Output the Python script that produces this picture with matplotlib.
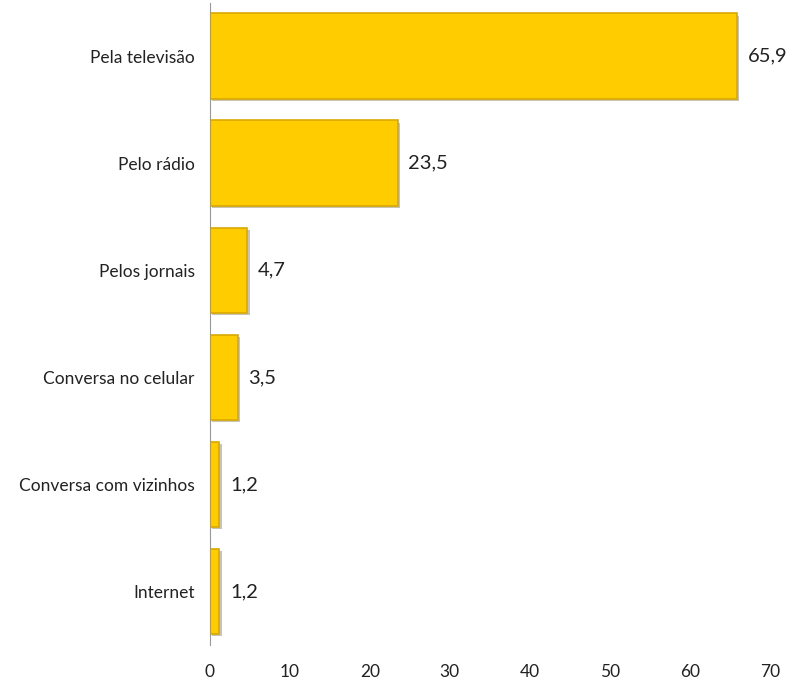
import matplotlib
matplotlib.use('Agg')
import matplotlib.pyplot as plt
import matplotlib.patheffects as pe

categories = ['Pela televisão', 'Pelo rádio', 'Pelos jornais',
              'Conversa no celular', 'Conversa com vizinhos', 'Internet']
values = [65.9, 23.5, 4.7, 3.5, 1.2, 1.2]
labels = ['65,9', '23,5', '4,7', '3,5', '1,2', '1,2']

plt.rcParams['font.family'] = ['Lato', 'DejaVu Sans']

fig = plt.figure(figsize=(7.92, 6.84), dpi=100)
ax = fig.add_axes([0.265, 0.057, 0.707, 0.939])

pos = list(range(len(categories)))[::-1]
bars = ax.barh(pos, values, height=0.8, color='#FFCC00', edgecolor='#D9A900', linewidth=1.2)
for b in bars:
    b.set_path_effects([pe.SimplePatchShadow(offset=(1.5, -1.5), alpha=0.3), pe.Normal()])
for p, v, lab in zip(pos, values, labels):
    ax.text(v + 1.3, p, lab, va='center', ha='left', fontsize=14.5, color='#222222')

ax.set_xlim(0, 70)
ax.set_ylim(-0.5, 5.5)
ax.set_xticks(range(0, 71, 10))
ax.set_yticks(pos)
ax.set_yticklabels(categories, fontsize=12.5)
ax.tick_params(axis='both', length=0, colors='#222222')
ax.tick_params(axis='x', pad=14, labelsize=12.5)
ax.tick_params(axis='y', pad=11)
for s in ['top', 'right', 'bottom']:
    ax.spines[s].set_visible(False)
ax.spines['left'].set_color('#999999')
ax.spines['left'].set_linewidth(0.8)

fig.savefig('out.png', dpi=100)
